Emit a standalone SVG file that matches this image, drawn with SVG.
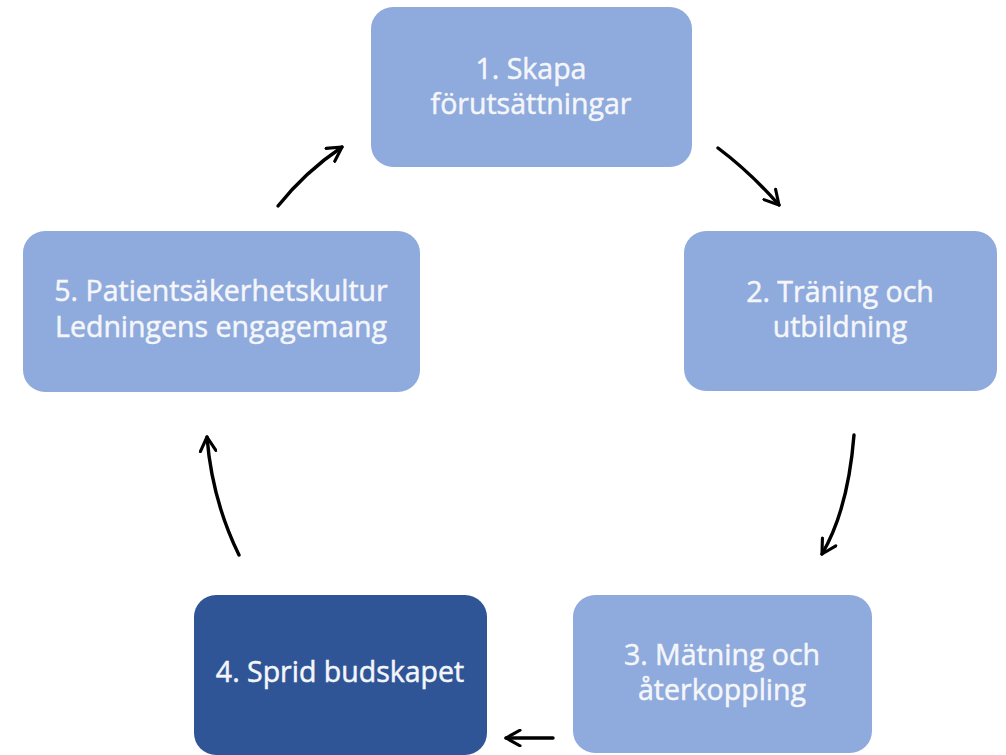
<svg xmlns="http://www.w3.org/2000/svg" width="1006" height="755" viewBox="0 0 1006 755">
<defs>
<style>
.box{fill:#8FAADC;}
.dark{fill:#2F5597;}
.lbl{font-family:"Open Sans","Liberation Sans",sans-serif;font-size:28.5px;fill:#F4F6FA;stroke:#F4F6FA;stroke-width:0.5;text-anchor:middle;}
.arr{fill:none;stroke:#000;stroke-width:3.4;stroke-linecap:round;marker-end:url(#ah);}
</style>
<marker id="ah" viewBox="0 0 12 12" refX="10" refY="6" markerWidth="5.5" markerHeight="5.5" orient="auto" markerUnits="strokeWidth">
<path d="M1,1 L10,6 L1,11" fill="none" stroke="#000" stroke-width="2" stroke-linecap="round" stroke-linejoin="round"/>
</marker>
</defs>
<rect width="1006" height="755" fill="#fff"/>
<g id="n1"><rect class="box" x="371" y="7" width="321" height="160" rx="22"/>
<text class="lbl" x="531" y="79">1. Skapa</text><text class="lbl" x="531" y="114">förutsättningar</text></g>
<g id="n2"><rect class="box" x="684" y="231" width="313" height="160" rx="22"/>
<text class="lbl" x="840" y="302">2. Träning och</text><text class="lbl" x="840" y="337">utbildning</text></g>
<g id="n3"><rect class="box" x="573" y="595" width="299" height="158" rx="22"/>
<text class="lbl" x="722" y="665">3. Mätning och</text><text class="lbl" x="722" y="700">återkoppling</text></g>
<g id="n4"><rect class="dark" x="194" y="595" width="293" height="160" rx="22"/>
<text class="lbl" x="340" y="682">4. Sprid budskapet</text></g>
<g id="n5"><rect class="box" x="23" y="231" width="397" height="161" rx="22"/>
<text class="lbl" x="221" y="301">5. Patientsäkerhetskultur</text><text class="lbl" x="221" y="337">Ledningens engagemang</text></g>
<g id="connectors">
<path class="arr" d="M718,148 Q750,172 779,205"/>
<path class="arr" d="M854,435 Q848,510 822,554"/>
<path class="arr" d="M553,738 L506,738"/>
<path class="arr" d="M239,555 Q212,500 207,437"/>
<path class="arr" d="M278,206 Q305,172 342,147"/>
</g>
</svg>
